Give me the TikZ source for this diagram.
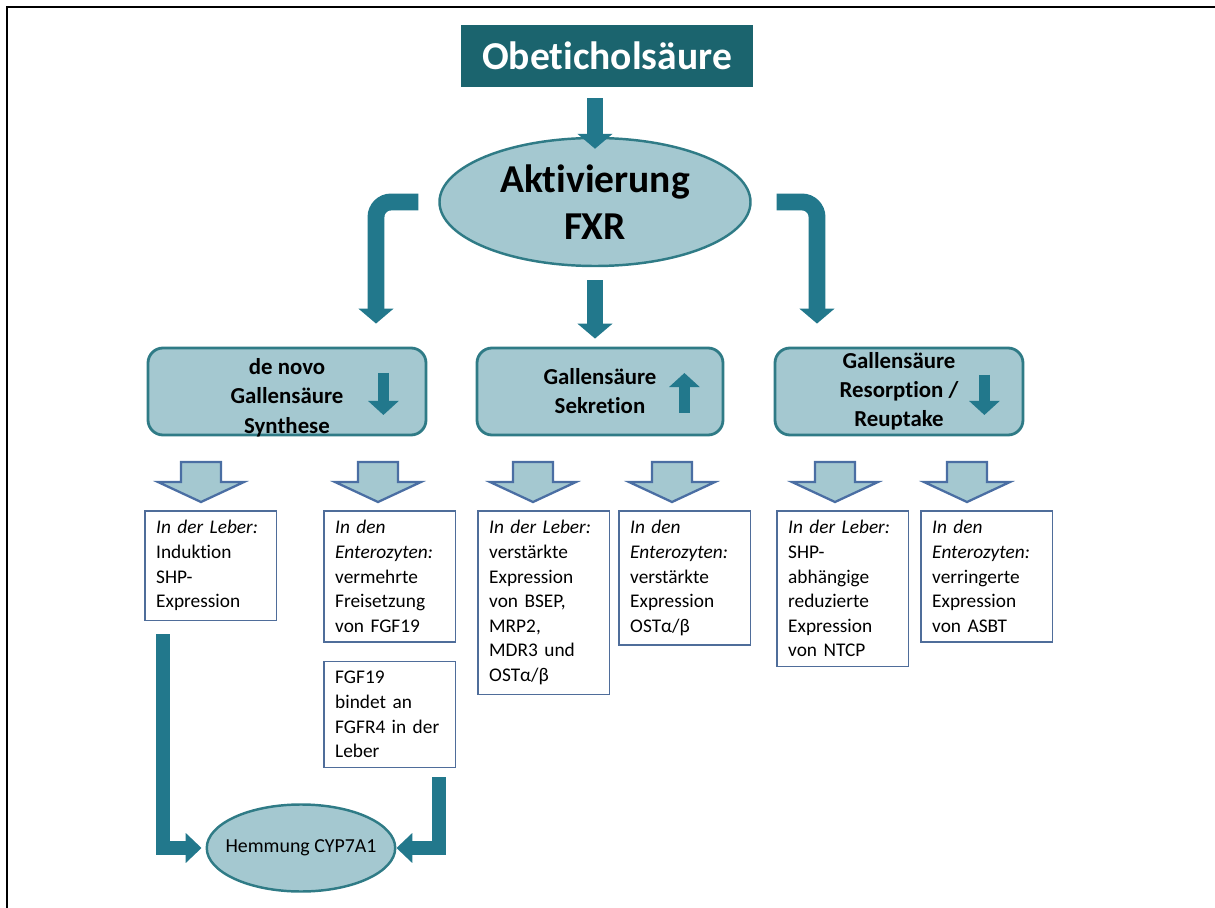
\documentclass[tikz,border=0pt]{standalone}
\usepackage{fontspec}
\setmainfont{Carlito}[Ligatures=NoCommon]
\usepackage{tikz}
\usetikzlibrary{positioning}
\usetikzlibrary{shapes.geometric}
\usetikzlibrary{arrows.meta}
\definecolor{titleteal}{HTML}{1B646E}
\definecolor{flowteal}{HTML}{22788C}
\definecolor{paleteal}{HTML}{A4C8D0}
\definecolor{rimteal}{HTML}{2F7B86}
\definecolor{hollowedge}{HTML}{4A6EA3}
\definecolor{txtedge}{HTML}{4F6D9A}

\begin{document}
\begin{tikzpicture}[
  x=0.2mm, y=-0.2mm,
  titlebox/.style={fill=titleteal, text=white, font=\fontsize{22.5}{26}\selectfont\bfseries, minimum width=5.84cm, minimum height=1.24cm},
  fxrnode/.style={ellipse, draw=rimteal, line width=1.4pt, fill=paleteal, align=center, font=\fontsize{22.5}{26.5}\selectfont\bfseries, minimum width=6.22cm, minimum height=2.56cm, inner sep=0pt},
  effect/.style={draw=rimteal, line width=1.6pt, rounded corners=3mm, fill=paleteal, align=center, font=\fontsize{13}{16.5}\selectfont\bfseries, minimum height=1.74cm, inner ysep=1pt},
  txtbox/.style={draw=txtedge, line width=0.9pt, fill=white, anchor=north west, align=left, text width=62pt, inner xsep=6.5pt, inner ysep=5.5pt, font=\fontsize{11}{14}\selectfont},
  flow/.style={line width=9.6pt, draw=flowteal, -{Triangle[width=19.5pt, length=8.5pt]}},
  flowthin/.style={line width=8pt, draw=flowteal, -{Triangle[width=16.5pt, length=9pt]}},
  icon/.style={line width=6.2pt, draw=flowteal, -{Triangle[width=17pt, length=8pt]}},
  hollow/.style={draw=hollowedge, fill=paleteal, line width=1.3pt, line join=miter}
]
\useasboundingbox (0,0) rectangle (1215,908);
\draw[line width=1.6pt] (7,908) -- (7,7) -- (1215,7);

\node[titlebox] (title) at (607,56) {Obeticholsäure};
\node[fxrnode] (fxr) at (595,202) {Aktivierung\\FXR};
\node[effect, minimum width=5.56cm, inner ysep=0pt, text height=48.7pt, text depth=0.6pt, font=\fontsize{13}{17}\selectfont\bfseries] (b1) at (287,391.5) {de novo\\Gallensäure\\Synthese};
\node[effect, minimum width=4.92cm] (b2) at (600,391.5) {Gallensäure\\Sekretion};
\node[effect, minimum width=4.96cm] (b3) at (899,391.5) {Gallensäure\\Resorption /\\Reuptake};

\node[txtbox] (t1) at (144,510) {\textit{In der Leber:}\\Induktion\\SHP-\\Expression};
\node[txtbox] (t2) at (323,510) {\textit{In den}\\\textit{Enterozyten:}\\vermehrte\\Freisetzung\\von FGF19};
\node[txtbox] (t3) at (477,510) {\textit{In der Leber:}\\verstärkte\\Expression\\von BSEP,\\MRP2,\\MDR3 und\\OSTα/β};
\node[txtbox] (t4) at (618,510) {\textit{In den}\\\textit{Enterozyten:}\\verstärkte\\Expression\\OSTα/β};
\node[txtbox] (t5) at (776,510) {\textit{In der Leber:}\\SHP-\\abhängige\\reduzierte\\Expression\\von NTCP};
\node[txtbox] (t6) at (920,510) {\textit{In den}\\\textit{Enterozyten:}\\verringerte\\Expression\\von ASBT};
\node[txtbox, below=3.6mm of t2] (t7) {FGF19\\bindet an\\FGFR4 in der\\Leber};
\node[ellipse, draw=rimteal, line width=1.4pt, fill=paleteal, minimum width=3.76cm, minimum height=1.74cm, inner xsep=-5pt, inner ysep=0pt, font=\fontsize{11.3}{14}\selectfont] (hem) at (301,848) {Hemmung CYP7A1};

% main flow
\draw[flow, shorten <=2.2mm, shorten >=-2.4mm] (fxr.north |- title.south) -- (fxr.north);
\draw[flow, rounded corners=3mm] ([xshift=-4mm]fxr.west) -| ([xshift=17.8mm, yshift=4.6mm]b1.north);
\draw[flow, shorten <=2.6mm, shorten >=1.6mm] (fxr.south) -- (fxr.south |- b2.north);
\draw[flow, rounded corners=3mm] ([xshift=5mm]fxr.east) -| ([xshift=-16.4mm, yshift=4.6mm]b3.north);

% up/down signs in the boxes
\draw[icon] ([xshift=-8.8mm, yshift=3.7mm]b1.east) -- ([xshift=-8.8mm, yshift=-4.7mm]b1.east);
\draw[icon] ([xshift=-8mm, yshift=-4.3mm]b2.east) -- ([xshift=-8mm, yshift=3.7mm]b2.east);
\draw[icon] ([xshift=-8mm, yshift=3.3mm]b3.east) -- ([xshift=-8mm, yshift=-4.7mm]b3.east);

% hollow arrows
\foreach \ax in {201,378,533,672,835,967}
  \draw[hollow] (\ax-20,462) -- (\ax+20,462) -- (\ax+20,482) -- (\ax+43,482) -- (\ax,502) -- (\ax-43,482) -- (\ax-20,482) -- cycle;

% towards CYP7A1
\draw[flowthin, shorten <=2.6mm, shorten >=0.8mm] ([xshift=-9.5mm]t1.south) |- (hem.west);
\draw[flowthin, shorten <=1.8mm] ([xshift=9.9mm]t7.south) |- (hem.east);

\end{tikzpicture}
\end{document}
